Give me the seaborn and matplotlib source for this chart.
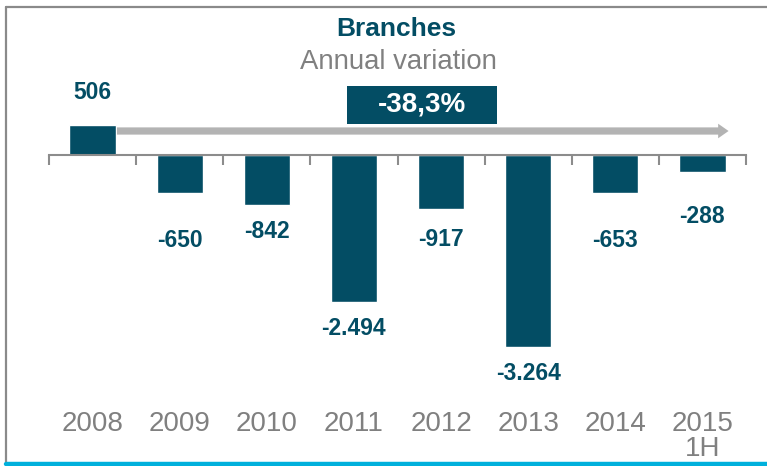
import matplotlib
matplotlib.use("Agg")
import matplotlib.pyplot as plt
from matplotlib import font_manager
from matplotlib.lines import Line2D
from matplotlib.patches import Rectangle
import seaborn as sns
import pandas as pd
import numpy as np

# ---- data ----
years = ["2008", "2009", "2010", "2011", "2012", "2013", "2014", "2015\n1H"]
values = [506, -650, -842, -2494, -917, -3264, -653, -288]
value_labels = ["506", "-650", "-842", "-2.494", "-917", "-3.264", "-653", "-288"]
label_gap_px = [33, 47, 27, 27, 31, 27, 47, 45]
title = "Branches"
subtitle = "Annual variation"
total_change = "-38,3%"

sns.set_theme(style="white")
names = {f.name for f in font_manager.fontManager.ttflist}
narrow = "Liberation Sans Narrow" if "Liberation Sans Narrow" in names else "Liberation Sans"
plt.rcParams["font.family"] = [narrow, "DejaVu Sans"]

W, H = 767, 466
fig = plt.figure(figsize=(W / 100, H / 100), dpi=100)

teal = "#034d64"
grey_txt = "#808080"
axis_grey = "#8c8c8c"

px_per_unit = 0.0588
zero_px = 155
ax = fig.add_axes([49 / W, 0, 697 / W, 1])
df = pd.DataFrame({"year": years, "value": values})
sns.barplot(data=df, x="year", y="value", color=teal, saturation=1, width=0.53, ax=ax)
ax.set_ylim(-(H - zero_px) / px_per_unit, zero_px / px_per_unit)
ax.set_xlim(-0.5, len(years) - 0.5)
ax.set_xlabel("")
ax.set_ylabel("")
ax.set_yticks([])
for s in ["top", "right", "left"]:
    ax.spines[s].set_visible(False)
ax.spines["bottom"].set_position(("data", 0))
ax.spines["bottom"].set_color(axis_grey)
ax.spines["bottom"].set_linewidth(1.5)
ax.patch.set_alpha(0)

ax.set_xticks(np.arange(len(years)))
ax.set_xticklabels(years, fontsize=20, color=grey_txt, linespacing=0.95)
ax.set_xticks(np.arange(len(years) + 1) - 0.5, minor=True)
ax.tick_params(axis="x", which="major", length=0, pad=184)
ax.tick_params(axis="x", which="minor", length=7, width=1.5, color=axis_grey, direction="out", bottom=True)

for i, (v, lab, gap) in enumerate(zip(values, value_labels, label_gap_px)):
    off = gap * 0.72 * (1 if v > 0 else -1)
    ax.annotate(lab, xy=(i, v), xytext=(0, off), textcoords="offset points",
                ha="center", va="center", fontsize=16.5, fontweight="bold", color=teal)

# arrow
arrow_y = 24 / px_per_unit
ax.annotate("", xy=(7.3, arrow_y), xytext=(0.28, arrow_y),
            arrowprops=dict(arrowstyle="simple,head_length=0.75,head_width=1.05,tail_width=0.52",
                            mutation_scale=10, color="#b3b3b3", lw=0, shrinkA=0, shrinkB=0))

# total change box
bx0 = (347 - 49) / 87.125 - 0.5
bx1 = (497 - 49) / 87.125 - 0.5
by0 = (zero_px - 124) / px_per_unit
by1 = (zero_px - 86) / px_per_unit
ax.add_patch(Rectangle((bx0, by0), bx1 - bx0, by1 - by0, facecolor=teal, edgecolor="none", zorder=3))
ax.text((bx0 + bx1) / 2, (by0 + by1) / 2, total_change, ha="center", va="center",
        fontsize=20, fontweight="bold", color="white", zorder=4)

# titles
fig.text(396 / W, 1 - 29 / H, title, ha="center", va="center", fontsize=19,
         fontweight="bold", color=teal)
fig.text(398 / W, 1 - 62 / H, subtitle, ha="center", va="center", fontsize=19.8, color=grey_txt)

# frame decorations
fig.add_artist(Line2D([6 / W, 1], [1 - 7 / H, 1 - 7 / H], color="#8a8a8a", lw=1.6))
fig.add_artist(Line2D([6 / W, 6 / W], [1 - 7 / H, 4 / H], color="#8a8a8a", lw=1.6))
fig.add_artist(Line2D([6 / W, 1], [2 / H, 2 / H], color="#00b0dc", lw=3.2))

fig.savefig("out.png", dpi=100)
